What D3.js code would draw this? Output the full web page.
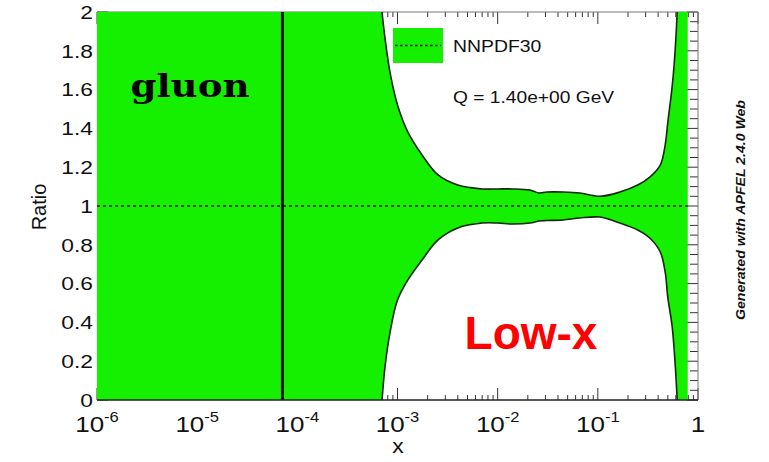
<!DOCTYPE html>
<html>
<head>
<meta charset="utf-8">
<script src="https://cdn.jsdelivr.net/npm/d3@7"></script>
<style>
  html, body { margin: 0; padding: 0; background: #fff; }
  svg { display: block; font-family: "Liberation Sans", Arial, Helvetica, sans-serif; }
</style>
</head>
<body>
<svg id="chart" width="769" height="462"></svg>
<script>
// ---- data ----
const xGrid = [1e-6, 6.0e-4, 7.0e-4, 7.5e-4, 8.4e-4, 1.0e-3, 1.27e-3, 1.76e-3, 2.54e-3, 4.0e-3,
               7.0e-3, 1.0e-2, 1.4e-2, 2.1e-2, 2.6e-2, 3.1e-2, 4.5e-2, 6.6e-2, 0.105, 0.166,
               0.25, 0.33, 0.42, 0.47, 0.50, 0.55, 0.58, 0.62, 0.66, 0.79];
const upper = [3.0, 2.4, 2.0, 1.866, 1.691, 1.521, 1.381, 1.263, 1.160, 1.108,
               1.088, 1.088, 1.088, 1.082, 1.067, 1.072, 1.072, 1.067, 1.050, 1.072,
               1.108, 1.149, 1.211, 1.314, 1.433, 1.608, 1.74, 2.0, 2.4, 3.0];
const lower = [-1.0, -0.4, 0.0, 0.17, 0.345, 0.515, 0.619, 0.722, 0.825, 0.887,
               0.912, 0.912, 0.907, 0.912, 0.923, 0.925, 0.928, 0.938, 0.943, 0.912,
               0.876, 0.835, 0.763, 0.66, 0.526, 0.387, 0.25, 0.0, -0.4, -1.0];
const centralX = [1e-6, 0.79];
const centralY = [1, 1];
const edgeLineX = [7.1e-5];
const yTickValues = [0, 0.2, 0.4, 0.6, 0.8, 1, 1.2, 1.4, 1.6, 1.8, 2];
const yTickLabels = ["0", "0.2", "0.4", "0.6", "0.8", "1", "1.2", "1.4", "1.6", "1.8", "2"];
const xDecades = [1e-6, 1e-5, 1e-4, 1e-3, 1e-2, 1e-1, 1];
const xTickBase = ["10", "10", "10", "10", "10", "10", "1"];
const xTickExp = ["-6", "-5", "-4", "-3", "-2", "-1", ""];
const seriesName = "NNPDF30";
const scaleLabel = "Q = 1.40e+00 GeV";

// ---- layout ----
const L = 97, R = 698, T = 12, B = 400;
const GREEN = "#15f000";
const svg = d3.select("#chart");
const x = d3.scaleLog().domain([1e-6, 1]).range([L, R]);
const y = d3.scaleLinear().domain([0, 2]).range([B, T]);
const curve = d3.curveCatmullRom.alpha(0.5);

svg.append("defs").append("clipPath").attr("id", "clip")
  .append("rect").attr("x", L).attr("y", T).attr("width", R - L).attr("height", B - T);

// ---- ticks (drawn first, band covers them) ----
const minorX = [];
for (let e = -6; e < 0; e++) for (let m = 2; m <= 9; m++) minorX.push(m * Math.pow(10, e));
const ticks = svg.append("g").attr("stroke", "#333").attr("stroke-width", 1);
xDecades.forEach(v => {
  ticks.append("line").attr("x1", x(v)).attr("x2", x(v)).attr("y1", B).attr("y2", B - 12);
  ticks.append("line").attr("x1", x(v)).attr("x2", x(v)).attr("y1", T).attr("y2", T + 12);
});
minorX.forEach(v => {
  ticks.append("line").attr("x1", x(v)).attr("x2", x(v)).attr("y1", B).attr("y2", B - 5);
  ticks.append("line").attr("x1", x(v)).attr("x2", x(v)).attr("y1", T).attr("y2", T + 5);
});
const yMinor = d3.range(0, 2.0001, 0.05);
yMinor.forEach(v => {
  const major = Math.abs(v / 0.2 - Math.round(v / 0.2)) < 1e-6;
  const len = major ? 11 : 8;
  ticks.append("line").attr("x1", R).attr("x2", R - len).attr("y1", y(v)).attr("y2", y(v));
  ticks.append("line").attr("x1", L).attr("x2", L + len).attr("y1", y(v)).attr("y2", y(v));
});
// frame lines
svg.append("line").attr("x1", L).attr("x2", R).attr("y1", T).attr("y2", T).attr("stroke", "#777").attr("stroke-width", 1);
svg.append("line").attr("x1", R).attr("x2", R).attr("y1", T).attr("y2", B).attr("stroke", "#777").attr("stroke-width", 1);

// ---- band ----
const band = xGrid.map((v, i) => ({ x: v, hi: upper[i], lo: lower[i] }));
const plot = svg.append("g").attr("clip-path", "url(#clip)");
plot.append("path").datum(band)
  .attr("fill", GREEN)
  .attr("d", d3.area().x(d => x(d.x)).y0(d => y(d.lo)).y1(d => y(d.hi)).curve(curve));
plot.append("path").datum(band)
  .attr("fill", "none").attr("stroke", "#0e2a06").attr("stroke-width", 1.6)
  .attr("d", d3.line().x(d => x(d.x)).y(d => y(d.hi)).curve(curve));
plot.append("path").datum(band)
  .attr("fill", "none").attr("stroke", "#0e2a06").attr("stroke-width", 1.6)
  .attr("d", d3.line().x(d => x(d.x)).y(d => y(d.lo)).curve(curve));
// central value
plot.append("path").datum(centralX.map((v, i) => ({ x: v, y: centralY[i] })))
  .attr("fill", "none").attr("stroke", "#111").attr("stroke-width", 1.6)
  .attr("stroke-dasharray", "3,3")
  .attr("d", d3.line().x(d => x(d.x)).y(d => y(d.y)));
// vertical edge line
edgeLineX.forEach(v => {
  plot.append("line").attr("x1", x(v)).attr("x2", x(v)).attr("y1", T).attr("y2", B)
    .attr("stroke", "#111").attr("stroke-width", 3);
});
// bottom axis line
svg.append("line").attr("x1", L).attr("x2", R).attr("y1", B).attr("y2", B).attr("stroke", "#222").attr("stroke-width", 1.5);

// ---- tick labels ----
yTickValues.forEach((v, i) => {
  svg.append("text")
    .attr("transform", `translate(93,${y(v)}) scale(1.2,1)`)
    .attr("text-anchor", "end").attr("dominant-baseline", "central")
    .attr("font-size", 19).attr("fill", "#111")
    .text(yTickLabels[i]);
});
xDecades.forEach((v, i) => {
  const t = svg.append("text")
    .attr("transform", `translate(${x(v)},432) scale(1.18,1)`)
    .attr("text-anchor", "middle").attr("font-size", 22).attr("fill", "#111");
  t.append("tspan").text(xTickBase[i]);
  if (xTickExp[i]) t.append("tspan").attr("font-size", 14).attr("dy", -10).text(xTickExp[i]);
});

// axis titles
svg.append("text").attr("transform", "translate(46,207) rotate(-90)")
  .attr("text-anchor", "middle").attr("font-size", 20).attr("fill", "#111").text("Ratio");
svg.append("text").attr("transform", "translate(398,453) scale(1.15,1)")
  .attr("text-anchor", "middle").attr("font-size", 20).attr("fill", "#111").text("x");

// ---- legend ----
const lg = svg.append("g");
lg.append("rect").attr("x", 393).attr("y", 28).attr("width", 50).attr("height", 35).attr("fill", GREEN);
lg.append("line").attr("x1", 395).attr("x2", 441).attr("y1", 45.5).attr("y2", 45.5)
  .attr("stroke", "#111").attr("stroke-width", 1.5).attr("stroke-dasharray", "2.5,2.5");
lg.append("text").attr("transform", "translate(453,52) scale(1.14,1)")
  .attr("font-size", 17).attr("fill", "#111").text(seriesName);
lg.append("text").attr("transform", "translate(453,103) scale(1.13,1)")
  .attr("font-size", 17).attr("fill", "#111").text(scaleLabel);

// ---- annotations ----
svg.append("text").attr("transform", "translate(190,97) scale(1.2,1)")
  .attr("text-anchor", "middle").style("font-family", "'DejaVu Serif', serif")
  .attr("font-weight", "bold").attr("font-size", 31).attr("fill", "#000").text("gluon");
svg.append("text").attr("transform", "translate(531,349)")
  .attr("text-anchor", "middle").attr("font-weight", "bold").attr("font-size", 46)
  .attr("fill", "#ff0000").text("Low-x");
svg.append("text").attr("transform", "translate(745,210) rotate(-90)")
  .attr("text-anchor", "middle").attr("font-weight", "bold").attr("font-style", "italic")
  .attr("font-size", 13).attr("textLength", 220).attr("lengthAdjust", "spacingAndGlyphs")
  .attr("fill", "#111").text("Generated with APFEL 2.4.0 Web");
</script>
</body>
</html>
